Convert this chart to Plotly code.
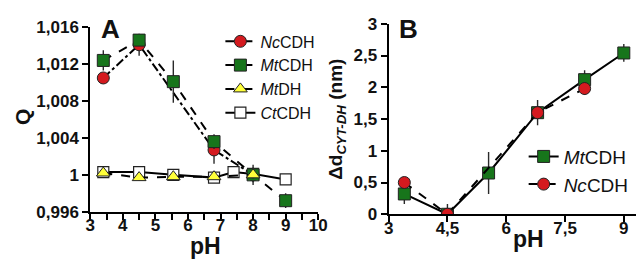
import plotly.graph_objects as go

W, H = 644, 262

# ---------------- Panel A data ----------------
a_ph_mt = [3.4, 4.5, 5.55, 6.8, 8.0, 9.0]
a_q_mt = [1.0124, 1.0146, 1.0101, 1.0036, 1.0000, 0.9972]
a_err_mt = [0.0011, 0.0006, 0.0023, 0.0008, 0.0011, 0.0008]

a_ph_nc = [3.4, 4.5, 6.8, 8.0]
a_q_nc = [1.0105, 1.0141, 1.0027, 1.0000]
a_err_nc = [0.0005, 0.0012, 0.0015, 0.0008]

a_ph_mtdh = [3.4, 4.5, 5.55, 6.8, 8.0]
a_q_mtdh = [1.0002, 0.9997, 0.9998, 0.9998, 1.0000]
a_err_mtdh = [0.0002, 0.0003, 0.0003, 0.0002, 0.0004]

a_ph_ct = [3.4, 4.5, 5.55, 6.8, 7.4, 8.0, 9.0]
a_q_ct = [1.0003, 1.0003, 1.0000, 0.9997, 1.0003, 1.0001, 0.9995]
a_err_ct = [0.0002, 0.0002, 0.0003, 0.0002, 0.0004, 0.0003, 0.0002]

a_yticks = [0.996, 1.0, 1.004, 1.008, 1.012, 1.016]
a_yticktext = ["0,996", "1", "1,004", "1,008", "1,012", "1,016"]
a_xticks = [3, 4, 5, 6, 7, 8, 9, 10]
a_xticktext = ["3", "4", "5", "6", "7", "8", "9", "10"]

# ---------------- Panel B data ----------------
b_ph_mt = [3.4, 4.5, 5.55, 6.8, 8.0, 9.0]
b_d_mt = [0.32, 0.0, 0.65, 1.6, 2.12, 2.54]
b_err_mt = [0.16, 0.16, 0.33, 0.2, 0.15, 0.14]

b_ph_nc = [3.4, 4.5, 6.8, 8.0]
b_d_nc = [0.5, 0.0, 1.6, 1.98]
b_err_nc = [0.04, 0.05, 0.05, 0.1]

b_yticks = [0, 0.5, 1, 1.5, 2, 2.5, 3]
b_yticktext = ["0", "0,5", "1", "1,5", "2", "2,5", "3"]
b_xticks = [3, 4.5, 6, 7.5, 9]
b_xticktext = ["3", "4,5", "6", "7,5", "9"]

GREEN = "#17751b"
RED = "#d41a1f"
YELLOW = "#ffff3a"
FONT = "Liberation Sans, Arial, sans-serif"


def eb(arr):
    return dict(type="data", array=arr, visible=True, color="#2a2a2a",
                thickness=1.4, width=0)


mk_line = dict(color="#222222", width=1)

fig = go.Figure()

# Panel A traces (draw order: Ct, Nc, Mt, MtDH)
fig.add_trace(go.Scatter(
    x=a_ph_ct, y=a_q_ct, error_y=eb(a_err_ct), mode="lines+markers",
    name="<i>Ct</i>CDH", legend="legend", legendrank=4,
    line=dict(color="black", width=2),
    marker=dict(symbol="square", size=11, color="white", line=dict(color="#222", width=1.2)),
    xaxis="x", yaxis="y"))
fig.add_trace(go.Scatter(
    x=a_ph_nc, y=a_q_nc, error_y=eb(a_err_nc), mode="lines+markers",
    name="<i>Nc</i>CDH", legend="legend", legendrank=1,
    line=dict(color="black", width=2, dash="dashdot"),
    marker=dict(symbol="circle", size=12, color=RED, line=mk_line),
    xaxis="x", yaxis="y"))
fig.add_trace(go.Scatter(
    x=a_ph_mt, y=a_q_mt, error_y=eb(a_err_mt), mode="lines+markers",
    name="<i>Mt</i>CDH", legend="legend", legendrank=2,
    line=dict(color="black", width=2, dash="dash"),
    marker=dict(symbol="square", size=12, color=GREEN, line=mk_line),
    xaxis="x", yaxis="y"))
fig.add_trace(go.Scatter(
    x=a_ph_mtdh, y=a_q_mtdh, error_y=eb(a_err_mtdh), mode="lines+markers",
    name="<i>Mt</i>DH", legend="legend", legendrank=3,
    line=dict(color="black", width=2, dash="dash"),
    marker=dict(symbol="triangle-up", size=12, color=YELLOW, line=mk_line),
    xaxis="x", yaxis="y"))

# Panel B traces
fig.add_trace(go.Scatter(
    x=b_ph_mt, y=b_d_mt, error_y=eb(b_err_mt), mode="lines+markers",
    name="<i>Mt</i>CDH", legend="legend2", legendrank=1,
    line=dict(color="black", width=2),
    marker=dict(symbol="square", size=12, color=GREEN, line=mk_line),
    xaxis="x2", yaxis="y2"))
fig.add_trace(go.Scatter(
    x=b_ph_nc, y=b_d_nc, error_y=eb(b_err_nc), mode="lines+markers",
    name="<i>Nc</i>CDH", legend="legend2", legendrank=2,
    line=dict(color="black", width=2, dash="dash"),
    marker=dict(symbol="circle", size=12, color=RED, line=mk_line),
    xaxis="x2", yaxis="y2"))

tickfont = dict(family=FONT, size=17, color="#111", weight="bold")
axis_common = dict(showline=True, linecolor="black", linewidth=2, ticks="outside",
                   ticklen=6, tickwidth=2, tickcolor="black", showgrid=False,
                   zeroline=False, tickfont=tickfont, fixedrange=True)

fig.update_layout(
    width=W, height=H,
    margin=dict(l=0, r=0, t=0, b=0),
    paper_bgcolor="white", plot_bgcolor="white",
    font=dict(family=FONT, color="#111"),
    xaxis=dict(domain=[79 / W, 312 / W], range=[3, 10], anchor="y",
               tickmode="array", tickvals=a_xticks, ticktext=a_xticktext,
               ticklabelstandoff=-9,
               minor=dict(dtick=0.5, tick0=3, ticks="outside", ticklen=6,
                          tickwidth=2, tickcolor="black"),
               **axis_common),
    yaxis=dict(domain=[1 - 210 / H, 1 - 11 / H], range=[0.996, 1.016], anchor="x",
               tickmode="array", tickvals=a_yticks, ticktext=a_yticktext,
               **axis_common),
    xaxis2=dict(domain=[384 / W, 642 / W], range=[3, 9.44], anchor="y2",
                tickmode="array", tickvals=b_xticks, ticktext=b_xticktext,
                ticklabelstandoff=-9,
                **axis_common),
    yaxis2=dict(domain=[1 - 212.7 / H, 1 - 7.3 / H], range=[0, 3], anchor="x2",
                tickmode="array", tickvals=b_yticks, ticktext=b_yticktext,
                **axis_common),
    legend=dict(x=212 / W, y=1 - 8 / H, xanchor="left", yanchor="top",
                bgcolor="rgba(0,0,0,0)", font=dict(family=FONT, size=16, color="#111"),
                itemwidth=30, traceorder="normal", tracegroupgap=0),
    legend2=dict(x=522 / W, y=1 - 130 / H, xanchor="left", yanchor="top",
                 bgcolor="rgba(0,0,0,0)", font=dict(family=FONT, size=19, color="#111"),
                 itemwidth=30, traceorder="normal", tracegroupgap=0),
    showlegend=True,
)

ann_font = dict(family=FONT, color="#111", weight="bold")
annotations = [
    dict(text="A", x=100 / W, y=1 - 13 / H, font=dict(size=26, **ann_font)),
    dict(text="B", x=404 / W, y=1 - 13 / H, font=dict(size=26, **ann_font)),
    dict(text="pH", x=197 / W, y=1 - 247 / H, font=dict(size=23, **ann_font)),
    dict(text="pH", x=527 / W, y=1 - 239 / H, font=dict(size=23, **ann_font)),
    dict(text="Q", x=9 / W, y=1 - 108 / H, textangle=-90, font=dict(size=21, **ann_font)),
    dict(text="Δd<sub><i>CYT-DH</i></sub> (nm)", x=331 / W, y=1 - 110 / H, textangle=-90,
         font=dict(size=19, **ann_font)),
]
for a in annotations:
    a.update(xref="paper", yref="paper", showarrow=False, xanchor="center", yanchor="middle")
fig.update_layout(annotations=annotations)

fig.write_html("out.html", config={"displayModeBar": False})
